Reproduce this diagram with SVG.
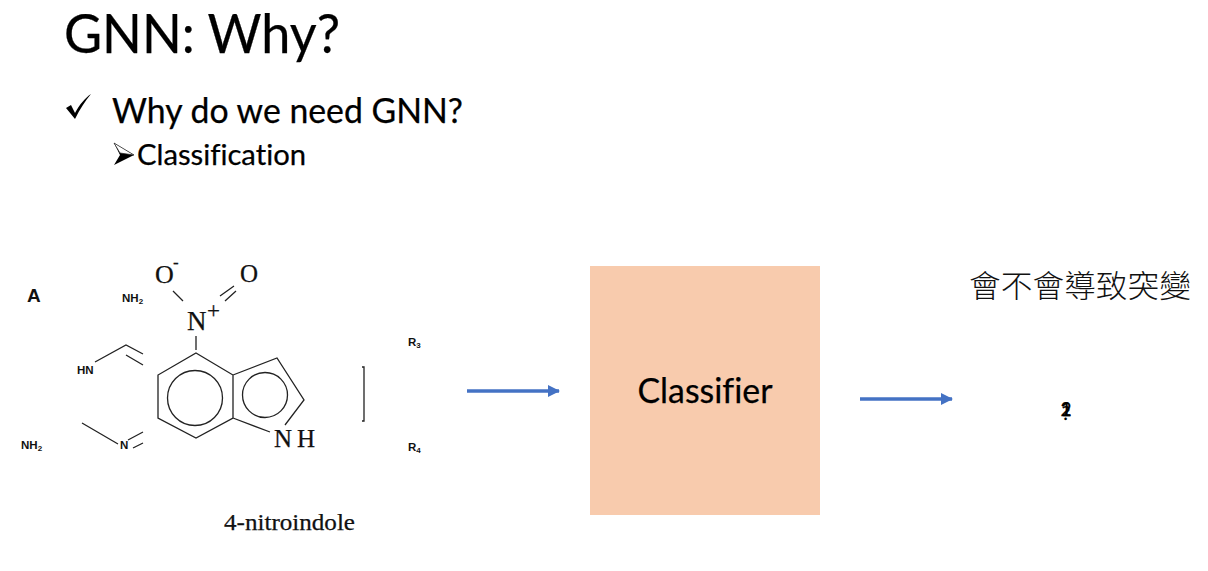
<svg xmlns="http://www.w3.org/2000/svg" width="1208" height="571" viewBox="0 0 1208 571">
<style>
.c{font-family:"Lato","Liberation Sans",sans-serif;fill:#000;font-variant-ligatures:none;stroke:#000;stroke-width:.25}
.s{font-family:"Liberation Sans",Arial,sans-serif;font-weight:bold;fill:#111;font-size:11.500px}
.t{font-family:"Liberation Serif","Times New Roman",serif;fill:#111;stroke:#111;stroke-width:.25}
.b{fill:none;stroke:#222;stroke-width:1.300}
.a{fill:none;stroke:#4472c4;stroke-width:3.500}
</style>
<defs><marker id="ah" markerUnits="userSpaceOnUse" markerWidth="12" markerHeight="12" refX="11" refY="6" orient="auto"><path d="M0 0L12 6L0 12Z" fill="#4472c4"/></marker></defs>
<rect width="1208" height="571" fill="#fff"/>
<g id="heading">
<text class="c" x="64" y="53" font-size="54" textLength="276" lengthAdjust="spacingAndGlyphs">GNN: Why?</text>
<path d="M66 108L71 105L75 113C80 104 85 98 91 94C85 101 80 109 75 119Z" fill="#000"/>
<text class="c" x="112" y="123" font-size="34" textLength="351" lengthAdjust="spacingAndGlyphs">Why do we need GNN?</text>
<path d="M114 143L134 155L114 165L120 155Z" fill="#000"/>
<path d="M114 143L134 155L120 153Z" fill="#fff" stroke="#222" stroke-width=".7"/>
<text class="c" x="137" y="165" font-size="29" textLength="169" lengthAdjust="spacingAndGlyphs">Classification</text>
</g>
<g id="molecule">
<text class="s" x="27" y="302" style="font-size:19px">A</text>
<text class="s" x="122" y="302">NH<tspan font-size="8" dy="2">2</tspan></text>
<text class="s" x="77" y="374">HN</text>
<text class="s" x="21" y="449">NH<tspan font-size="8" dy="2">2</tspan></text>
<text class="s" x="120" y="449">N</text>
<text class="s" x="408" y="346">R<tspan font-size="8" dy="2">3</tspan></text>
<text class="s" x="408" y="451">R<tspan font-size="8" dy="2">4</tspan></text>
<path class="b" d="M95 362L126 345L143 354M126 355L143 365M82 423L118 444M128 440L143 432M133 448L143 443"/>
<path class="b" d="M362 367L364 367V421L362 421" stroke-width="1"/>
<text class="t" x="155" y="283" font-size="26">O</text>
<text class="t" x="173" y="268" font-size="17">-</text>
<text class="t" x="240" y="282" font-size="25">O</text>
<text class="t" x="187" y="330" font-size="27">N</text>
<text class="t" x="207" y="318" font-size="23">+</text>
<text class="t" x="274" y="447" font-size="25">N</text>
<text class="t" x="297" y="447" font-size="25">H</text>
<path class="b" d="M173 291L183 301M220 296L234 286M225 301L236 291M196 336V350"/>
<path class="b" d="M196 353L233 375V418L196 438L158 418V375ZM233 375L277 358L304 400L285 425M233 418L270 432"/>
<circle class="b" cx="195" cy="398" r="27.500"/>
<circle class="b" cx="265" cy="395" r="22.500"/>
<text class="t" x="224" y="530" font-size="23" textLength="131" lengthAdjust="spacingAndGlyphs">4-nitroindole</text>
</g>
<g id="classifier">
<rect x="590" y="266" width="230" height="249" fill="#f8cbad"/>
<text class="c" x="705" y="403" font-size="34" text-anchor="middle" textLength="135" lengthAdjust="spacingAndGlyphs">Classifier</text>
</g>
<g id="output">
<text x="1080" y="297" font-family="'Noto Sans CJK TC','Noto Sans CJK SC',sans-serif" font-size="31" font-weight="300" text-anchor="middle" textLength="222" lengthAdjust="spacingAndGlyphs" fill="#111">會不會導致突變</text>
<text class="c" x="1066" y="416" font-size="19" text-anchor="middle">1</text>
<text class="c" x="1066" y="416" font-size="19" text-anchor="middle">2</text>
<text class="c" x="1066" y="420" font-size="19" text-anchor="middle">?</text>
</g>
<g id="connectors">
<path class="a" d="M467 391H559" marker-end="url(#ah)"/>
<path class="a" d="M860 399H952" marker-end="url(#ah)"/>
</g>
</svg>
